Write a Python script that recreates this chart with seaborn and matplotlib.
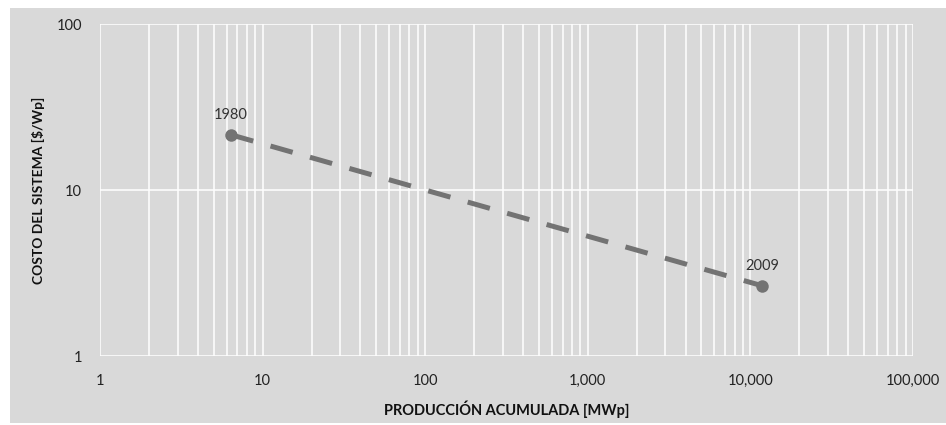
import numpy as np
import pandas as pd
import matplotlib.pyplot as plt
import matplotlib.ticker as mticker
from matplotlib.patches import Rectangle
import seaborn as sns

# --- data ---
years = ["1980", "2009"]
produccion_mwp = [6.4, 11800]
costo_usd_wp = [21.5, 2.65]

df = pd.DataFrame({"year": years, "produccion": produccion_mwp, "costo": costo_usd_wp})

sns.set_theme(style="darkgrid", rc={"axes.facecolor": "#d9d9d9", "figure.facecolor": "white"})
plt.rcParams['font.family'] = ['Lato', 'DejaVu Sans']

fig = plt.figure(figsize=(9.46, 4.25), dpi=100)
# grey panel behind everything
fig.add_artist(Rectangle((10 / 946, 2 / 425), 1, 415 / 425, transform=fig.transFigure,
                         facecolor="#d9d9d9", edgecolor="none", zorder=-10))

ax = fig.add_axes([100 / 946, 1 - 356 / 425, 813 / 946, 332 / 425])
ax.set_facecolor("#d9d9d9")

line_color = "#737373"
sns.lineplot(data=df, x="produccion", y="costo", ax=ax, color=line_color, lw=3.6,
             linestyle=(0, (4.6, 3.6)), marker="o", markersize=9, markeredgewidth=0,
             sort=False, zorder=3)

ax.set_xscale("log")
ax.set_yscale("log")
ax.set_xlim(1, 1e5)
ax.set_ylim(1, 100)

ax.xaxis.set_major_locator(mticker.LogLocator(base=10, numticks=10))
ax.xaxis.set_minor_locator(mticker.LogLocator(base=10, subs=np.arange(2, 10), numticks=100))
ax.xaxis.set_minor_formatter(mticker.NullFormatter())
ax.yaxis.set_major_locator(mticker.LogLocator(base=10, numticks=10))
ax.yaxis.set_minor_locator(mticker.NullLocator())
fmt = mticker.FuncFormatter(lambda v, _: f"{v:,.0f}")
ax.xaxis.set_major_formatter(fmt)
ax.yaxis.set_major_formatter(fmt)

ax.grid(which="major", color="white", lw=1.1)
ax.xaxis.grid(which="minor", color="white", lw=1.1)
for s in ax.spines.values():
    s.set_visible(False)
ax.tick_params(which="major", color="white", length=5, width=1.1, labelsize=10.5,
               labelcolor="#222222", pad=8)
ax.tick_params(which="minor", length=0)

for yr, xv, yv in zip(years, produccion_mwp, costo_usd_wp):
    ax.annotate(yr, (xv, yv), textcoords="offset pixels", xytext=(0, 20),
                ha="center", va="center", fontsize=10.5, color="#333333")

ax.set_xlabel("PRODUCCIÓN ACUMULADA [MWp]", fontweight="bold", fontsize=10.5, color="#111111", labelpad=9)
ax.set_ylabel("COSTO DEL SISTEMA [$/Wp]", fontweight="bold", fontsize=10, color="#111111", labelpad=8)

fig.savefig("out.png", dpi=100)
